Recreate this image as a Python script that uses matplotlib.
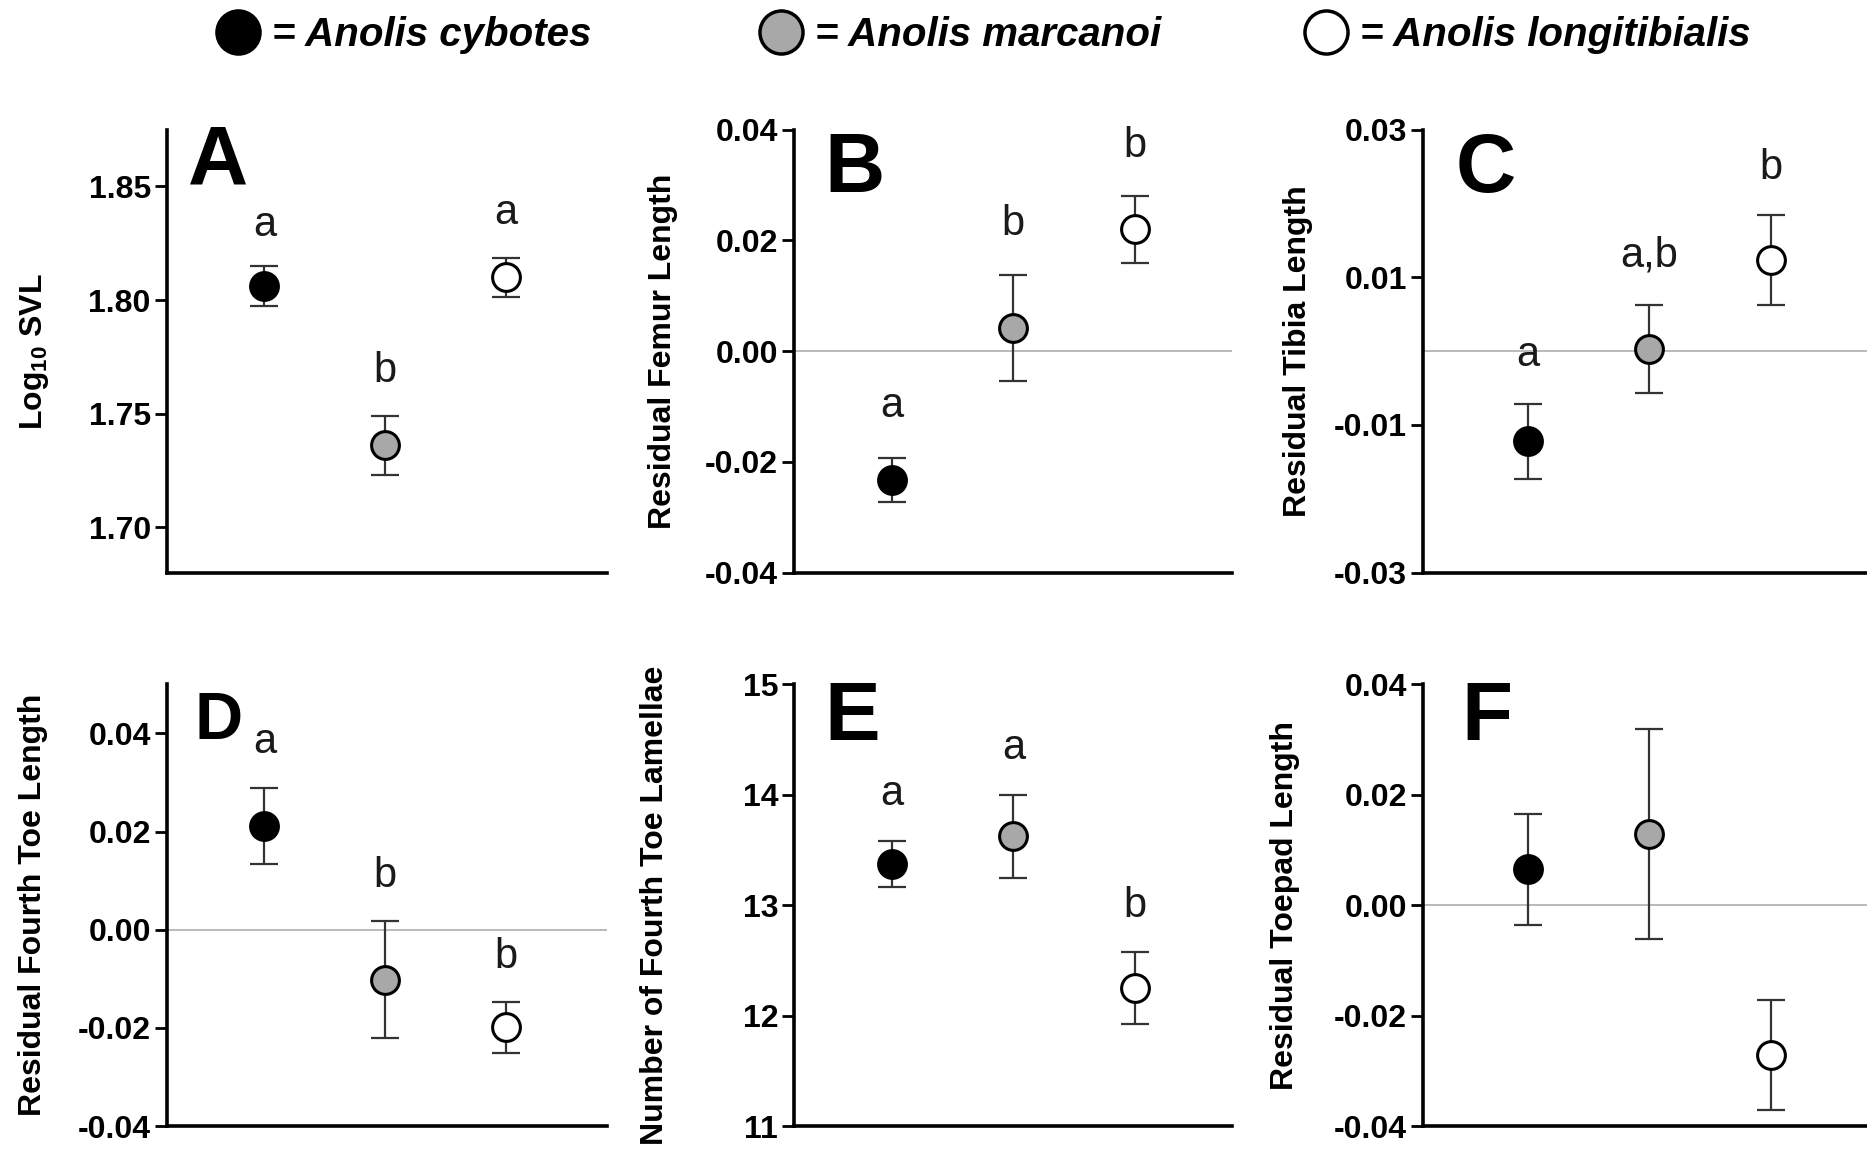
import matplotlib
matplotlib.use("Agg")
import matplotlib.pyplot as plt
from matplotlib.lines import Line2D

plt.rcParams['font.family'] = ['Liberation Sans', 'DejaVu Sans']
plt.rcParams['mathtext.fontset'] = 'custom'
plt.rcParams['mathtext.bf'] = 'Liberation Sans:bold'
plt.rcParams['mathtext.rm'] = 'Liberation Sans'

# species, in plotting order
species = ['Anolis cybotes', 'Anolis marcanoi', 'Anolis longitibialis']
species_colors = ['black', '#a8a8a8', 'white']
x_pos = [1, 2, 3]

# A - log10 SVL
svl_mean = [1.8063, 1.7360, 1.8100]
svl_se = [0.0088, 0.0130, 0.0087]
svl_letters = ['a', 'b', 'a']
svl_letter_y = [1.8284, 1.7639, 1.8336]

# B - residual femur length
femur_mean = [-0.0233, 0.0042, 0.0220]
femur_se = [0.0040, 0.0096, 0.0060]
femur_letters = ['a', 'b', 'b']
femur_letter_y = [-0.0119, 0.0209, 0.0351]

# C - residual tibia length
tibia_mean = [-0.0122, 0.0003, 0.0123]
tibia_se = [0.0051, 0.0060, 0.0061]
tibia_letters = ['a', 'a,b', 'b']
tibia_letter_y = [-0.0020, 0.0114, 0.0233]

# D - residual fourth toe length
toe_mean = [0.0211, -0.0102, -0.0199]
toe_se = [0.0077, 0.0119, 0.0052]
toe_letters = ['a', 'b', 'b']
toe_letter_y = [0.0361, 0.0088, -0.0078]

# E - number of fourth toe lamellae
lam_mean = [13.372, 13.625, 12.250]
lam_se = [0.21, 0.375, 0.325]
lam_letters = ['a', 'a', 'b']
lam_letter_y = [13.91, 14.32, 12.89]

# F - residual toepad length
pad_mean = [0.0065, 0.0129, -0.0271]
pad_se = [0.0100, 0.0190, 0.0100]
pad_letters = []
pad_letter_y = []

panel_ids = ['A', 'B', 'C', 'D', 'E', 'F']
ylabels = [r'Log$\mathbf{_{10}}$ SVL', 'Residual Femur Length', 'Residual Tibia Length',
           'Residual Fourth Toe Length', 'Number of Fourth Toe Lamellae', 'Residual Toepad Length']
yticks = [[1.70, 1.75, 1.80, 1.85],
          [-0.04, -0.02, 0.00, 0.02, 0.04],
          [-0.03, -0.01, 0.01, 0.03],
          [-0.04, -0.02, 0.00, 0.02, 0.04],
          [11, 12, 13, 14, 15],
          [-0.04, -0.02, 0.00, 0.02, 0.04]]
ytick_labels = [['1.70', '1.75', '1.80', '1.85'],
                ['-0.04', '-0.02', '0.00', '0.02', '0.04'],
                ['-0.03', '-0.01', '0.01', '0.03'],
                ['-0.04', '-0.02', '0.00', '0.02', '0.04'],
                ['11', '12', '13', '14', '15'],
                ['-0.04', '-0.02', '0.00', '0.02', '0.04']]
ylims = [(1.68, 1.875), (-0.04, 0.04), (-0.03, 0.03), (-0.04, 0.05), (11, 15), (-0.04, 0.04)]
zero_line = [False, True, True, True, False, True]

means = [svl_mean, femur_mean, tibia_mean, toe_mean, lam_mean, pad_mean]
ses = [svl_se, femur_se, tibia_se, toe_se, lam_se, pad_se]
letters = [svl_letters, femur_letters, tibia_letters, toe_letters, lam_letters, pad_letters]
letter_ys = [svl_letter_y, femur_letter_y, tibia_letter_y, toe_letter_y, lam_letter_y, pad_letter_y]

# layout (figure fractions)
col_left = [0.0893, 0.4254, 0.7621]
col_width = [0.2360, 0.2347, 0.2379]
row_bottom = [0.5026, 0.0217]
row_height = [0.3847, 0.3837]
col_xlim = [(0.192, 3.837), (0.196, 3.804), (0.137, 3.79)]
label_x = [-0.262, -0.265, -0.247, -0.27, -0.283, -0.277]
panel_pos = [(0.048, 1.013), (0.068, 0.998), (0.074, 0.998), (0.064, 0.984), (0.068, 1.013), (0.087, 1.013)]
panel_size = [60, 60, 60, 48, 60, 60]

fig = plt.figure(figsize=(18.67, 11.51), dpi=100)

for i, pid in enumerate(panel_ids):
    row, col = divmod(i, 3)
    ax = fig.add_axes([col_left[col], row_bottom[row], col_width[col], row_height[row]])

    if zero_line[i]:
        ax.axhline(0, color='#b4b4b4', lw=1.3, zorder=0)

    ax.errorbar(x_pos, means[i], yerr=ses[i], fmt='none', ecolor='#333333',
                elinewidth=1.6, capsize=10, capthick=1.6, zorder=2)
    for j in range(3):
        ax.plot(x_pos[j], means[i][j], 'o', ms=20, mfc=species_colors[j],
                mec='black', mew=2.2, zorder=3)

    for j, (lt, ly) in enumerate(zip(letters[i], letter_ys[i])):
        ax.text(x_pos[j], ly, lt, ha='center', va='baseline', fontsize=30, color='#1a1a1a')

    ax.text(panel_pos[i][0], panel_pos[i][1], pid, transform=ax.transAxes,
            fontsize=panel_size[i], fontweight='bold', ha='left', va='top')

    ax.set_xlim(*col_xlim[col])
    ax.set_ylim(*ylims[i])
    ax.set_yticks(yticks[i])
    ax.set_yticklabels(ytick_labels[i], fontweight='bold')
    ax.tick_params(axis='y', direction='out', length=8.5, width=2, labelsize=23, pad=3)
    ax.tick_params(axis='x', bottom=False, labelbottom=False)
    for side in ['top', 'right']:
        ax.spines[side].set_visible(False)
    for side in ['left', 'bottom']:
        ax.spines[side].set_linewidth(2.6)

    ax.set_ylabel(ylabels[i], fontsize=23, fontweight='bold')
    ax.yaxis.set_label_coords(label_x[i], 0.5)

# species key across the top
leg_x = [0.1165, 0.4074, 0.6993]
for j in range(3):
    h = Line2D([], [], ls='none', marker='o', ms=31, mfc=species_colors[j],
               mec='black', mew=2.5)
    fig.legend(handles=[h], labels=['= ' + species[j]], loc='center left',
               bbox_to_anchor=(leg_x[j], 0.9696), frameon=False, borderpad=0,
               borderaxespad=0, handlelength=1.0, handletextpad=0.35,
               prop={'weight': 'bold', 'style': 'italic', 'size': 29})

fig.savefig('out.png', dpi=100)
